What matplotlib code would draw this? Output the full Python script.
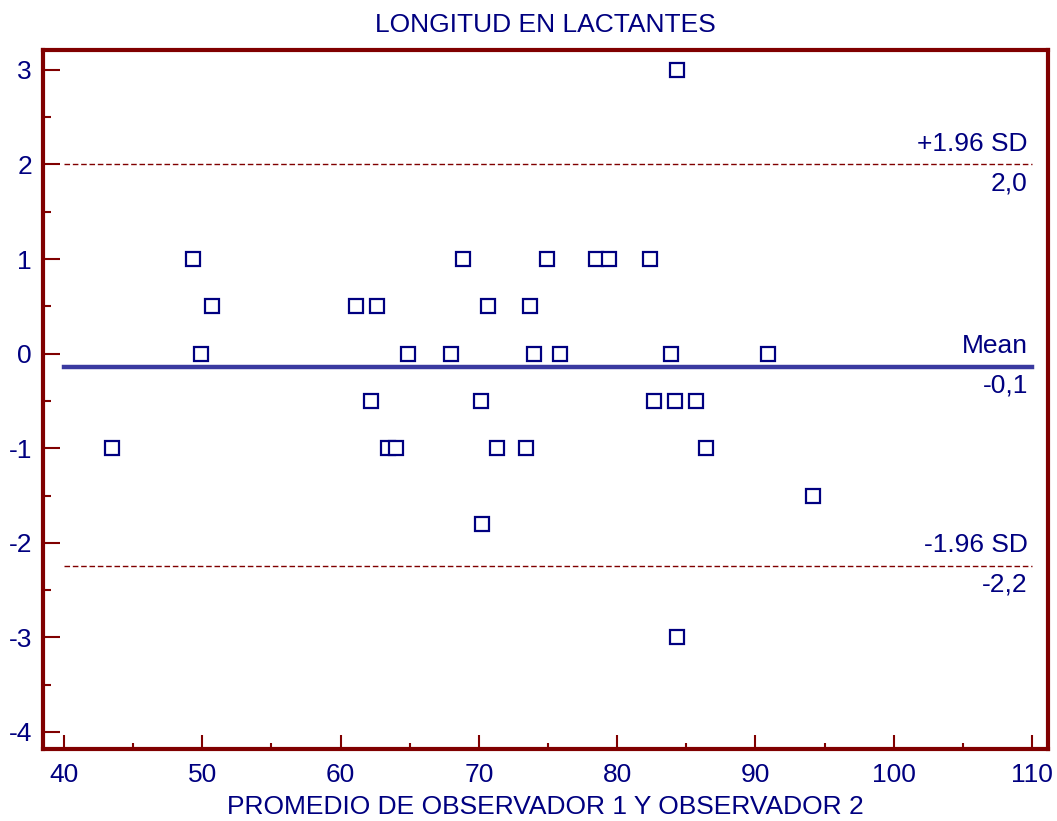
import matplotlib
matplotlib.use("Agg")
import matplotlib.pyplot as plt
from matplotlib.ticker import MultipleLocator

plt.rcParams['font.family'] = ['Liberation Sans', 'DejaVu Sans']
plt.rcParams['axes.unicode_minus'] = False

# Data
avg_x = [43.5, 49.3, 50.7, 49.9, 61.1, 62.6, 62.2, 63.4, 64.0, 64.9,
         68.0, 68.85, 70.15, 70.65, 71.3, 70.2, 73.4, 73.7, 74.0, 74.9,
         75.9, 78.5, 79.4, 82.4, 82.7, 84.2, 83.9, 84.3, 84.3, 85.7,
         86.4, 90.9, 94.2]
diff_y = [-1, 1, 0.5, 0, 0.5, 0.5, -0.5, -1, -1, 0,
          0, 1, -0.5, 0.5, -1, -1.8, -1, 0.5, 0, 1,
          0, 1, 1, 1, -0.5, -0.5, 0, 3, -3, -0.5,
          -1, 0, -1.5]
mean_diff = -0.14
upper_loa = 2.0
lower_loa = -2.24
mean_text = "-0,1"
upper_text = "2,0"
lower_text = "-2,2"
x_line = [40, 110]

navy = '#000080'
maroon = '#800000'

W, H = 1057, 821
fig = plt.figure(figsize=(W/100, H/100), dpi=100)
ax = fig.add_axes([43/W, (H-749)/H, (1048-43)/W, (749-50)/H])

ax.plot(avg_x, diff_y, linestyle='none', marker='s', markersize=9.5,
        markerfacecolor='white', markeredgecolor=navy, markeredgewidth=1.6, zorder=3)

ax.plot(x_line, [mean_diff]*2, color='#3a3aa0', linewidth=3.2, zorder=2)
ax.plot(x_line, [upper_loa]*2, color=maroon, linewidth=1.0, linestyle=(0, (4, 2)), zorder=2)
ax.plot(x_line, [lower_loa]*2, color=maroon, linewidth=1.0, linestyle=(0, (4, 2)), zorder=2)

fs = 19
tx = 109.7
ax.text(tx, upper_loa + 0.09, "+1.96 SD", ha='right', va='bottom', color=navy, fontsize=fs)
ax.text(tx, upper_loa - 0.07, upper_text, ha='right', va='top', color=navy, fontsize=fs)
ax.text(tx, mean_diff + 0.09, "Mean", ha='right', va='bottom', color=navy, fontsize=fs)
ax.text(tx, mean_diff - 0.07, mean_text, ha='right', va='top', color=navy, fontsize=fs)
ax.text(tx, lower_loa + 0.09, "-1.96 SD", ha='right', va='bottom', color=navy, fontsize=fs)
ax.text(tx, lower_loa - 0.07, lower_text, ha='right', va='top', color=navy, fontsize=fs)

ax.set_xlim(38.48, 111.16)
ax.set_ylim(-4.18, 3.21)
ax.xaxis.set_major_locator(MultipleLocator(10))
ax.xaxis.set_minor_locator(MultipleLocator(5))
ax.yaxis.set_major_locator(MultipleLocator(1))
ax.yaxis.set_minor_locator(MultipleLocator(0.5))

ax.tick_params(axis='x', which='major', direction='in', length=10, width=1.5, color=maroon,
               labelcolor=navy, labelsize=fs, pad=10)
ax.tick_params(axis='x', which='minor', direction='in', length=4, width=1.5, color=maroon)
ax.tick_params(axis='y', which='major', direction='in', length=12, width=1.5, color=maroon,
               labelcolor=navy, labelsize=fs, pad=8)
ax.tick_params(axis='y', which='minor', direction='in', length=6, width=1.5, color=maroon)

for s in ax.spines.values():
    s.set_color(maroon)
    s.set_linewidth(3)

ax.set_title("LONGITUD EN LACTANTES", color=navy, fontsize=fs, pad=13)
ax.set_xlabel("PROMEDIO DE OBSERVADOR 1 Y OBSERVADOR 2", color=navy, fontsize=fs, labelpad=6)

fig.savefig("out.png", dpi=100)
